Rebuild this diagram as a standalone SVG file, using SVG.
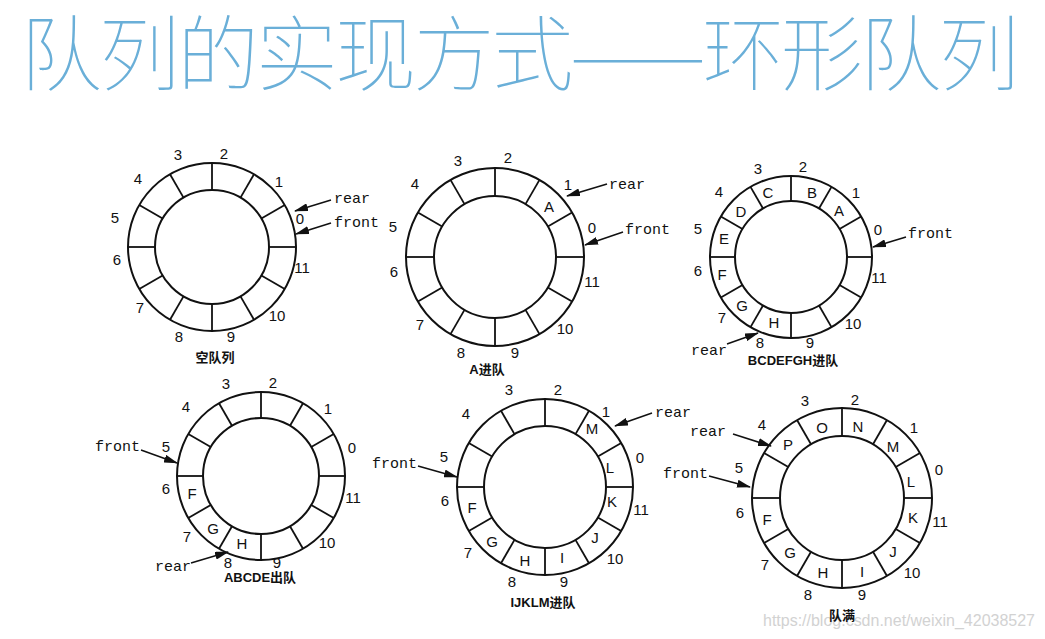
<svg xmlns="http://www.w3.org/2000/svg" width="1045" height="639" viewBox="0 0 1045 639">
<style>
.ring{fill:none;stroke:#111;stroke-width:2}
.sp line{stroke:#111;stroke-width:1.8}
.n{font-family:"Liberation Sans",Arial,sans-serif;font-size:15px;fill:#111;text-anchor:middle}
.c{font-family:"Liberation Sans",Arial,sans-serif;font-size:15px;fill:#111;text-anchor:middle}
.p{font-family:"Liberation Mono","DejaVu Sans Mono",monospace;font-size:15px;fill:#111}
.cap{font-family:"Liberation Sans","Noto Sans CJK SC",sans-serif;font-size:13px;fill:#111;text-anchor:middle;font-weight:bold}
.arr{stroke:#111;stroke-width:1.6;fill:none;marker-end:url(#ah)}
</style>
<defs>
<marker id="ah" markerUnits="userSpaceOnUse" markerWidth="14" markerHeight="8" refX="13" refY="4" orient="auto">
<path d="M0,0 L14,4 L0,8 Z" fill="#111"/>
</marker>
</defs>
<rect width="1045" height="639" fill="#fff"/>
<text x="20" y="84" font-family="'Noto Sans CJK SC',sans-serif" font-size="82" font-weight="100" fill="#6aafd8" textLength="1000">队列的实现方式——环形队列</text>

<g id="ring1">
<circle class="ring" cx="212" cy="247" r="84"/>
<circle class="ring" cx="212" cy="247" r="57"/>
<g class="sp" transform="translate(212,247)">
<line x1="57" x2="84" transform="rotate(0)"/><line x1="57" x2="84" transform="rotate(30)"/><line x1="57" x2="84" transform="rotate(60)"/><line x1="57" x2="84" transform="rotate(90)"/><line x1="57" x2="84" transform="rotate(120)"/><line x1="57" x2="84" transform="rotate(150)"/><line x1="57" x2="84" transform="rotate(180)"/><line x1="57" x2="84" transform="rotate(210)"/><line x1="57" x2="84" transform="rotate(240)"/><line x1="57" x2="84" transform="rotate(270)"/><line x1="57" x2="84" transform="rotate(300)"/><line x1="57" x2="84" transform="rotate(330)"/>
</g>
<text class="n" x="178" y="160">3</text><text class="n" x="224" y="159">2</text><text class="n" x="279" y="187">1</text><text class="n" x="300" y="224">0</text><text class="n" x="302" y="273">11</text><text class="n" x="277" y="321">10</text><text class="n" x="231" y="342">9</text><text class="n" x="179" y="342">8</text><text class="n" x="140" y="313">7</text><text class="n" x="117" y="265">6</text><text class="n" x="115" y="223">5</text><text class="n" x="138" y="184">4</text>
<text class="p" x="334" y="203">rear</text><text class="p" x="334" y="227">front</text>
<text class="cap" x="215" y="362">空队列</text>
</g>

<g id="ring2">
<circle class="ring" cx="495" cy="257" r="89"/>
<circle class="ring" cx="495" cy="257" r="61"/>
<g class="sp" transform="translate(495,257)">
<line x1="61" x2="89" transform="rotate(0)"/><line x1="61" x2="89" transform="rotate(30)"/><line x1="61" x2="89" transform="rotate(60)"/><line x1="61" x2="89" transform="rotate(90)"/><line x1="61" x2="89" transform="rotate(120)"/><line x1="61" x2="89" transform="rotate(150)"/><line x1="61" x2="89" transform="rotate(180)"/><line x1="61" x2="89" transform="rotate(210)"/><line x1="61" x2="89" transform="rotate(240)"/><line x1="61" x2="89" transform="rotate(270)"/><line x1="61" x2="89" transform="rotate(300)"/><line x1="61" x2="89" transform="rotate(330)"/>
</g>
<text class="n" x="458" y="166">3</text><text class="n" x="508" y="163">2</text><text class="n" x="568" y="190">1</text><text class="n" x="592" y="233">0</text><text class="n" x="592" y="287">11</text><text class="n" x="565" y="334">10</text><text class="n" x="515" y="358">9</text><text class="n" x="461" y="358">8</text><text class="n" x="420" y="330">7</text><text class="n" x="394" y="277">6</text><text class="n" x="393" y="232">5</text><text class="n" x="415" y="189">4</text>
<text class="c" x="549" y="212">A</text>
<text class="p" x="609" y="189">rear</text><text class="p" x="625" y="234">front</text>
<text class="cap" x="487" y="374">A进队</text>
</g>

<g id="ring3">
<circle class="ring" cx="791" cy="257" r="81"/>
<circle class="ring" cx="791" cy="257" r="56"/>
<g class="sp" transform="translate(791,257)">
<line x1="56" x2="81" transform="rotate(0)"/><line x1="56" x2="81" transform="rotate(30)"/><line x1="56" x2="81" transform="rotate(60)"/><line x1="56" x2="81" transform="rotate(90)"/><line x1="56" x2="81" transform="rotate(120)"/><line x1="56" x2="81" transform="rotate(150)"/><line x1="56" x2="81" transform="rotate(180)"/><line x1="56" x2="81" transform="rotate(210)"/><line x1="56" x2="81" transform="rotate(240)"/><line x1="56" x2="81" transform="rotate(270)"/><line x1="56" x2="81" transform="rotate(300)"/><line x1="56" x2="81" transform="rotate(330)"/>
</g>
<text class="n" x="758" y="174">3</text><text class="n" x="803" y="172">2</text><text class="n" x="856" y="198">1</text><text class="n" x="878" y="235">0</text><text class="n" x="879" y="283">11</text><text class="n" x="853" y="329">10</text><text class="n" x="810" y="348">9</text><text class="n" x="760" y="348">8</text><text class="n" x="722" y="323">7</text><text class="n" x="698" y="276">6</text><text class="n" x="698" y="234">5</text><text class="n" x="719" y="197">4</text>
<text class="c" x="839" y="216">A</text><text class="c" x="812" y="198">B</text><text class="c" x="768" y="198">C</text><text class="c" x="741" y="217">D</text><text class="c" x="724" y="244">E</text><text class="c" x="722" y="280">F</text><text class="c" x="742" y="311">G</text><text class="c" x="774" y="328">H</text>
<text class="p" x="908" y="238">front</text><text class="p" x="727" y="355" text-anchor="end">rear</text>
<text class="cap" x="793" y="365" font-size="12">BCDEFGH进队</text>
</g>

<g id="ring4">
<circle class="ring" cx="261" cy="476" r="84"/>
<circle class="ring" cx="261" cy="476" r="58"/>
<g class="sp" transform="translate(261,476)">
<line x1="58" x2="84" transform="rotate(0)"/><line x1="58" x2="84" transform="rotate(30)"/><line x1="58" x2="84" transform="rotate(60)"/><line x1="58" x2="84" transform="rotate(90)"/><line x1="58" x2="84" transform="rotate(120)"/><line x1="58" x2="84" transform="rotate(150)"/><line x1="58" x2="84" transform="rotate(180)"/><line x1="58" x2="84" transform="rotate(210)"/><line x1="58" x2="84" transform="rotate(240)"/><line x1="58" x2="84" transform="rotate(270)"/><line x1="58" x2="84" transform="rotate(300)"/><line x1="58" x2="84" transform="rotate(330)"/>
</g>
<text class="n" x="226" y="389">3</text><text class="n" x="273" y="388">2</text><text class="n" x="328" y="414">1</text><text class="n" x="352" y="453">0</text><text class="n" x="353" y="503">11</text><text class="n" x="327" y="548">10</text><text class="n" x="277" y="568">9</text><text class="n" x="228" y="568">8</text><text class="n" x="187" y="542">7</text><text class="n" x="166" y="494">6</text><text class="n" x="166" y="452">5</text><text class="n" x="186" y="412">4</text>
<text class="c" x="192" y="499">F</text><text class="c" x="213" y="534">G</text><text class="c" x="242" y="549">H</text>
<text class="p" x="140" y="451" text-anchor="end">front</text><text class="p" x="155" y="571">rear</text>
<text class="cap" x="260" y="582">ABCDE出队</text>
</g>

<g id="ring5">
<circle class="ring" cx="545" cy="487" r="88"/>
<circle class="ring" cx="545" cy="487" r="61"/>
<g class="sp" transform="translate(545,487)">
<line x1="61" x2="88" transform="rotate(0)"/><line x1="61" x2="88" transform="rotate(30)"/><line x1="61" x2="88" transform="rotate(60)"/><line x1="61" x2="88" transform="rotate(90)"/><line x1="61" x2="88" transform="rotate(120)"/><line x1="61" x2="88" transform="rotate(150)"/><line x1="61" x2="88" transform="rotate(180)"/><line x1="61" x2="88" transform="rotate(210)"/><line x1="61" x2="88" transform="rotate(240)"/><line x1="61" x2="88" transform="rotate(270)"/><line x1="61" x2="88" transform="rotate(300)"/><line x1="61" x2="88" transform="rotate(330)"/>
</g>
<text class="n" x="509" y="395">3</text><text class="n" x="558" y="395">2</text><text class="n" x="606" y="417">1</text><text class="n" x="640" y="463">0</text><text class="n" x="641" y="515">11</text><text class="n" x="615" y="564">10</text><text class="n" x="564" y="587">9</text><text class="n" x="512" y="587">8</text><text class="n" x="468" y="558">7</text><text class="n" x="445" y="506">6</text><text class="n" x="444" y="462">5</text><text class="n" x="466" y="419">4</text>
<text class="c" x="592" y="434">M</text><text class="c" x="610" y="473">L</text><text class="c" x="612" y="507">K</text><text class="c" x="595" y="543">J</text><text class="c" x="562" y="563">I</text><text class="c" x="525" y="566">H</text><text class="c" x="492" y="547">G</text><text class="c" x="472" y="513">F</text>
<text class="p" x="655" y="417">rear</text><text class="p" x="417" y="468" text-anchor="end">front</text>
<text class="cap" x="543" y="607">IJKLM进队</text>
</g>

<g id="ring6">
<circle class="ring" cx="842" cy="498" r="90"/>
<circle class="ring" cx="842" cy="498" r="62"/>
<g class="sp" transform="translate(842,498)">
<line x1="62" x2="90" transform="rotate(0)"/><line x1="62" x2="90" transform="rotate(30)"/><line x1="62" x2="90" transform="rotate(60)"/><line x1="62" x2="90" transform="rotate(90)"/><line x1="62" x2="90" transform="rotate(120)"/><line x1="62" x2="90" transform="rotate(150)"/><line x1="62" x2="90" transform="rotate(180)"/><line x1="62" x2="90" transform="rotate(210)"/><line x1="62" x2="90" transform="rotate(240)"/><line x1="62" x2="90" transform="rotate(270)"/><line x1="62" x2="90" transform="rotate(300)"/><line x1="62" x2="90" transform="rotate(330)"/>
</g>
<text class="n" x="805" y="406">3</text><text class="n" x="855" y="405">2</text><text class="n" x="914" y="433">1</text><text class="n" x="939" y="475">0</text><text class="n" x="940" y="527">11</text><text class="n" x="912" y="578">10</text><text class="n" x="862" y="600">9</text><text class="n" x="808" y="600">8</text><text class="n" x="765" y="570">7</text><text class="n" x="740" y="518">6</text><text class="n" x="739" y="473">5</text><text class="n" x="762" y="430">4</text>
<text class="c" x="788" y="450">P</text><text class="c" x="822" y="433">O</text><text class="c" x="858" y="432">N</text><text class="c" x="893" y="452">M</text><text class="c" x="911" y="487">L</text><text class="c" x="913" y="523">K</text><text class="c" x="893" y="557">J</text><text class="c" x="862" y="577">I</text><text class="c" x="823" y="578">H</text><text class="c" x="790" y="558">G</text><text class="c" x="767" y="525">F</text>
<text class="p" x="690" y="436">rear</text><text class="p" x="708" y="478" text-anchor="end">front</text>
</g>

<g id="connectors">
<line class="arr" x1="331" y1="200" x2="295" y2="211"/>
<line class="arr" x1="331" y1="223" x2="296" y2="234"/>
<line class="arr" x1="607" y1="184" x2="567" y2="196"/>
<line class="arr" x1="623" y1="232" x2="585" y2="245"/>
<line class="arr" x1="906" y1="237" x2="873" y2="247"/>
<line class="arr" x1="727" y1="344" x2="758" y2="333"/>
<line class="arr" x1="141" y1="450" x2="177" y2="463"/>
<line class="arr" x1="191" y1="563" x2="228" y2="552"/>
<line class="arr" x1="652" y1="413" x2="615" y2="426"/>
<line class="arr" x1="418" y1="466" x2="457" y2="477"/>
<line class="arr" x1="733" y1="434" x2="771" y2="446"/>
<line class="arr" x1="709" y1="476" x2="750" y2="487"/>
</g>
<text x="763" y="626" font-family="'Liberation Sans',Arial,sans-serif" font-size="16" fill="#d2d2d2" textLength="272">https://blog.csdn.net/weixin_42038527</text>
<text class="cap" x="842" y="620">队满</text>
</svg>
